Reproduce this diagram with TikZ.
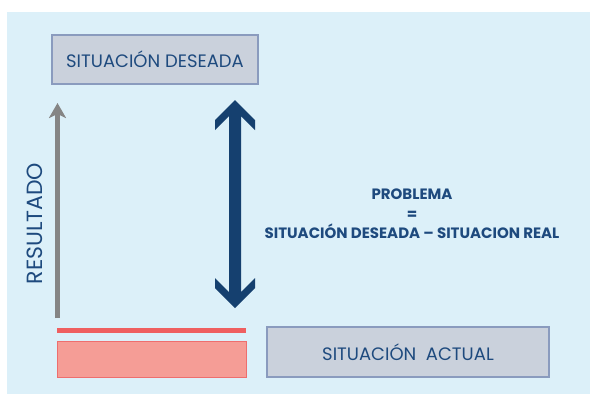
\documentclass[tikz,border=0pt]{standalone}
\usepackage{fontspec}
\setmainfont{Poppins}
\usetikzlibrary{arrows.meta, positioning, calc}

\definecolor{bgblue}{HTML}{DCF0F9}
\definecolor{boxfill}{HTML}{CAD1DC}
\definecolor{boxline}{HTML}{8A9BBE}
\definecolor{txtblue}{HTML}{1E4A7E}
\definecolor{arrblue}{HTML}{15406F}
\definecolor{arrgray}{HTML}{858585}
\definecolor{redline}{HTML}{EF5F60}
\definecolor{redfill}{HTML}{F59D96}
\definecolor{rededge}{HTML}{EE6E6E}

\begin{document}
\begin{tikzpicture}[
    x=1pt, y=-1pt,
    state/.style={draw=boxline, line width=1.2pt, fill=boxfill,
                  text=txtblue, font=\fontsize{18}{20}\selectfont,
                  inner sep=0pt},
    lbl/.style={text=txtblue, font=\fontsize{15}{19.5}\selectfont\bfseries,
                align=center},
    >=Stealth
  ]
  \useasboundingbox (0,0) rectangle (590,394);
  \fill[bgblue] (7,12) rectangle (590,394);

  % States
  \node[state, minimum width=206pt, minimum height=49pt] (deseada)
    at (155,59.5) {SITUACIÓN DESEADA};
  \node[state, minimum width=282pt, minimum height=50pt] (actual)
    at (408,352) {SITUACIÓN\ \ ACTUAL};

  % Current level
  \node[draw=rededge, line width=1pt, fill=redfill, minimum width=189pt,
        minimum height=36pt, inner sep=0pt] (nivel) at (151.5,359) {};
  \coordinate (rl) at (57,330.5);
  \coordinate (rr) at (246,330.5);
  \draw[redline, line width=5pt] (rl) -- (rr);

  % Result axis
  \coordinate (rbase) at (57.5,318);
  \coordinate (rtip) at (57.5,103);
  \draw[arrgray, line width=5pt,
        -{Stealth[length=15pt, width=17pt, inset=4pt]}] (rbase) -- (rtip);
  \node[text=txtblue, font=\fontsize{22}{24}\selectfont, rotate=90]
    (resultado) at (35,223.5) {RESULTADO};

  % Gap arrow
  \coordinate (gtop) at (235,100);
  \coordinate (gbot) at (235,308);
  \fill[arrblue] (gtop) -- ++(20,20) -- ++(0,10) -- ++(-14,-14)
    -- ($(gbot)+(6,-16)$) -- ++(14,-14) -- ++(0,10) -- (gbot)
    -- ++(-20,-20) -- ++(0,-10) -- ++(14,14)
    -- ($(gtop)+(-6,16)$) -- ++(-14,14) -- ++(0,-10) -- cycle;

  % Definition
  \node[lbl] (problema) at (412,214)
    {PROBLEMA\\=\\SITUACIÓN DESEADA – SITUACION REAL};
\end{tikzpicture}
\end{document}
